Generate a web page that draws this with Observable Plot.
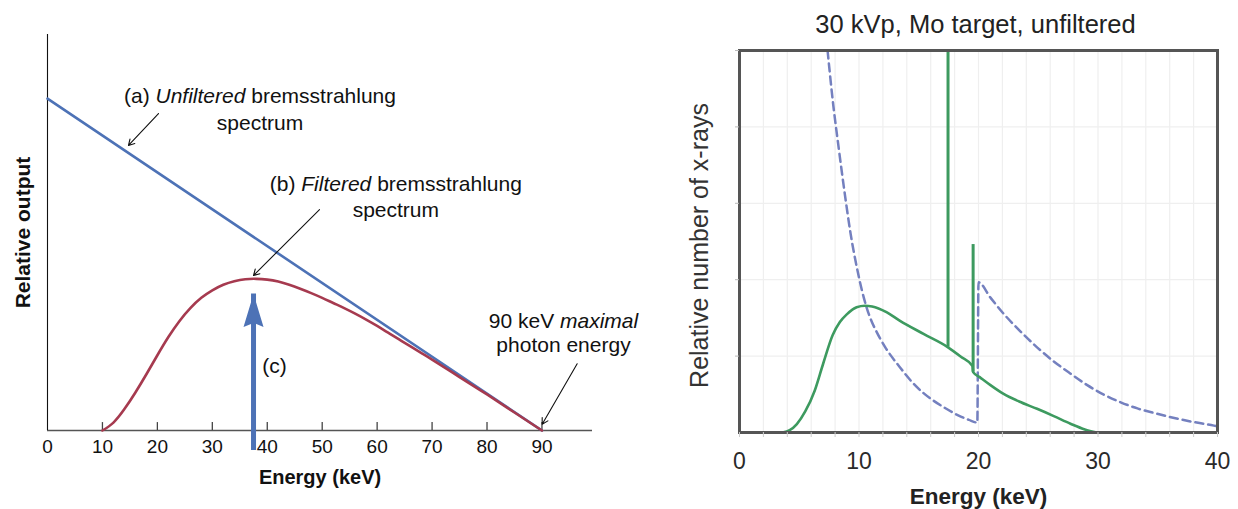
<!DOCTYPE html>
<html><head><meta charset="utf-8">
<script src="https://cdn.jsdelivr.net/npm/d3@7"></script>
<script src="https://cdn.jsdelivr.net/npm/@observablehq/plot@0.6"></script>
<style>
html,body{margin:0;padding:0;background:#fff;}
#wrap{position:relative;width:1238px;height:509px;overflow:hidden;background:#fff;}
#wrap svg{position:absolute;top:0;background:transparent !important;max-width:none !important;overflow:visible;}
</style></head><body><div id="wrap"></div>
<script>
// ---------- Left panel data ----------
const leftTicks = [0, 10, 20, 30, 40, 50, 60, 70, 80, 90];
const unfilteredKeV = [0, 90];
const unfilteredOutput = [83.8, 0];
const filteredKeV =    [10, 12, 14, 16, 18, 20, 22, 24, 26, 28, 30, 32, 34, 36, 38, 40, 42, 44, 46, 48, 50, 52, 54, 56, 58, 60, 62, 64, 66, 68, 70, 75, 80, 85, 90];
const filteredOutput = [0, 2.0, 5.4, 9.6, 14.2, 19.0, 23.6, 27.6, 30.9, 33.5, 35.4, 36.8, 37.7, 38.2, 38.3, 38.1, 37.6, 36.8, 35.8, 34.7, 33.5, 32.2, 30.9, 29.5, 28.0, 26.4, 24.7, 23.0, 21.3, 19.6, 17.9, 13.5, 9.1, 4.55, 0];
const peakKeV = [37.5];
const peakOutput = [34.5];

// ---------- Right panel data ----------
const rightTicks = [0, 10, 20, 30, 40];
const minorTicks = [0, 2, 4, 6, 8, 10, 12, 14, 16, 18, 20, 22, 24, 26, 28, 30, 32, 34, 36, 38, 40];
const gridY = [20, 40, 60, 80, 100];
const spectrumKeV =   [3.6, 4.2, 4.8, 5.5, 6.3, 7.0, 7.8, 8.4, 9.0, 9.8, 10.5, 11.1, 12.3, 13.4, 15.4, 17.45, 18.5, 19.5, 19.55, 20.1, 21.0, 22.1, 23.4, 24.9, 26.3, 27.7, 28.9, 29.9];
const spectrumCount = [0, 0.6, 2.2, 5.5, 11, 18, 25.5, 28.9, 31, 32.8, 33.2, 33.0, 31.5, 29.3, 25.8, 22.3, 19.9, 17.4, 15.8, 14.5, 12.4, 10.1, 8.1, 6.2, 4.3, 2.3, 0.8, 0];
const charKeV = [17.45, 19.55];
const charLow = [22.3, 15.8];
const charHigh = [100, 49.2];
const edgeKeV =   [7.37, 7.8, 8.3, 8.81, 9.3, 9.9, 10.3, 10.63, 11.0, 11.4, 12.2, 13.42, 14.5, 15.4, 16.2, 17.2, 18.3, 19.2, 19.9, 20.0, 21.0, 22.1, 23.5, 24.9, 26.3, 27.7, 29.1, 30.5, 31.9, 33.3, 34.7, 36.1, 37.9, 39.7, 40];
const edgeCount = [100, 87, 74.5, 62.5, 52, 42, 36.5, 32.8, 29.5, 26.8, 22.3, 17.1, 13.0, 10.3, 8.4, 6.4, 4.5, 3.3, 2.6, 39.3, 35.3, 31.1, 26.5, 22.3, 18.6, 15.4, 12.4, 9.9, 7.9, 6.3, 5.1, 4.0, 2.8, 1.8, 1.6];

// ---------- styles ----------
const FONT = "'Liberation Sans', Arial, Helvetica, sans-serif";
const BLUE = "#4d72b6";
const RED = "#a63a4f";
const GREEN = "#3d9a5f";
const DASH = "#7480bf";

const headSymbol = {
  draw(ctx) {
    ctx.moveTo(0, 0);
    ctx.lineTo(10, 33);
    ctx.lineTo(0, 29);
    ctx.lineTo(-10, 33);
    ctx.closePath();
  }
};

const left = Plot.plot({
  width: 680, height: 509,
  marginLeft: 47, marginRight: 88, marginTop: 34, marginBottom: 79,
  x: {domain: [0, 99.2]},
  y: {domain: [0, 100], axis: null},
  style: {fontFamily: FONT, background: "transparent", overflow: "visible"},
  marks: [
    Plot.axisX({ticks: leftTicks, tickSize: 0, tickPadding: 9, fontSize: 19, label: null, fill: "#111"}),
    Plot.ruleY([0], {stroke: "#555", strokeWidth: 1.6}),
    Plot.ruleX([0], {y1: 0, y2: 100, stroke: "#111", strokeWidth: 1.1}),
    Plot.ruleX(leftTicks.slice(1), {x: d => d, y1: 0, y2: 2, stroke: "#444", strokeWidth: 1.3}),
    Plot.line(unfilteredKeV, {x: unfilteredKeV, y: unfilteredOutput, stroke: BLUE, strokeWidth: 2.6}),
    Plot.line(filteredKeV, {x: filteredKeV, y: filteredOutput, stroke: RED, strokeWidth: 2.6, curve: "natural"}),
    Plot.ruleX(peakKeV, {x: peakKeV, y1: 0, y2: peakOutput, stroke: BLUE, strokeWidth: 5, insetTop: 20}),
    Plot.dot(peakKeV, {x: peakKeV, y: peakOutput, symbol: headSymbol, fill: BLUE, stroke: "none", r: 10}),
    Plot.text(["(a) Unfiltered bremsstrahlung"], {x: 38.68, y: 82.58, text: d => d, fontSize: 21, lineAnchor: "bottom", fill: "#111"}),
    Plot.text(["spectrum"], {x: 38.68, y: 75.9, text: d => d, fontSize: 21, lineAnchor: "bottom", fill: "#111"}),
    Plot.text(["(b) Filtered bremsstrahlung"], {x: 63.4, y: 60.4, text: d => d, fontSize: 21, lineAnchor: "bottom", fill: "#111"}),
    Plot.text(["spectrum"], {x: 63.4, y: 54.0, text: d => d, fontSize: 21, lineAnchor: "bottom", fill: "#111"}),
    Plot.text(["90 keV maximal"], {x: 93.92, y: 25.93, text: d => d, fontSize: 21, lineAnchor: "bottom", fill: "#111"}),
    Plot.text(["photon energy"], {x: 93.92, y: 19.77, text: d => d, fontSize: 21, lineAnchor: "bottom", fill: "#111"}),
    Plot.text(["(c)"], {x: 41.3, y: 14.4, text: d => d, fontSize: 21, lineAnchor: "bottom", fill: "#111"}),
    Plot.arrow([0], {x1: 20.2, y1: 80.05, x2: 14.74, y2: 71.97, stroke: "#111", strokeWidth: 1.1, headLength: 9}),
    Plot.arrow([0], {x1: 49.51, y1: 55.8, x2: 37.5, y2: 39.14, stroke: "#111", strokeWidth: 1.1, headLength: 9}),
    Plot.arrow([0], {x1: 96.41, y1: 16.84, x2: 90.04, y2: 1.6, stroke: "#111", strokeWidth: 1.1, headLength: 9}),
    Plot.text(["Relative output"], {frameAnchor: "left", dx: -24, rotate: -90, textAnchor: "middle", text: d => d, fontSize: 21, fontWeight: "bold", fill: "#111"}),
    Plot.text(["Energy (keV)"], {frameAnchor: "bottom", dy: 53, lineAnchor: "bottom", text: d => d, fontSize: 20, fontWeight: "bold", fill: "#111"})
  ]
});

const right = Plot.plot({
  width: 558, height: 509,
  marginLeft: 59, marginRight: 21, marginTop: 50, marginBottom: 77,
  x: {domain: [0, 40]},
  y: {domain: [0, 100]},
  style: {fontFamily: FONT, background: "transparent", overflow: "visible"},
  marks: [
    Plot.ruleX(minorTicks, {x: d => d, stroke: "#efefef", strokeWidth: 1.2}),
    Plot.ruleY(gridY, {y: d => d, stroke: "#efefef", strokeWidth: 1.2}),
    Plot.line(edgeKeV, {x: edgeKeV, y: edgeCount, stroke: DASH, strokeWidth: 2.5, strokeDasharray: "8,5", curve: "monotone-x"}),
    Plot.line(spectrumKeV, {x: spectrumKeV, y: spectrumCount, stroke: GREEN, strokeWidth: 2.6, curve: "monotone-x"}),
    Plot.ruleX(charKeV, {x: charKeV, y1: charLow, y2: charHigh, stroke: GREEN, strokeWidth: 3}),
    Plot.frame({stroke: "#555", strokeWidth: 3}),
    Plot.axisY({ticks: gridY, tickSize: 4, tickFormat: () => "", stroke: "#bbb", label: null}),
    Plot.axisX({ticks: minorTicks, tickSize: 5, tickFormat: () => "", stroke: "#ccc", label: null}),
    Plot.axisX({ticks: rightTicks, tickSize: 0, tickPadding: 20, fontSize: 23, fill: "#2a2a2a", label: null}),
    Plot.text(["30 kVp, Mo target, unfiltered"], {frameAnchor: "top", dx: -3, dy: -18, lineAnchor: "bottom", text: d => d, fontSize: 25.5, fill: "#222"}),
    Plot.text(["Relative number of x-rays"], {frameAnchor: "left", dx: -39.5, dy: 4, rotate: -90, textAnchor: "middle", text: d => d, fontSize: 25, fill: "#333"}),
    Plot.text(["Energy (keV)"], {frameAnchor: "bottom", dy: 71, lineAnchor: "bottom", text: d => d, fontSize: 22.5, fontWeight: "bold", fill: "#222"})
  ]
});

function italicize(svg) {
  d3.select(svg).selectAll("text").each(function() {
    const t = this.textContent;
    const m = t.match(/^(.*?)(Unfiltered|Filtered|maximal)(.*)$/);
    if (!m) return;
    const el = d3.select(this);
    el.text("").style("white-space", "pre");
    el.append("tspan").text(m[1]);
    el.append("tspan").attr("font-style", "italic").text(m[2]);
    el.append("tspan").text(m[3]);
  });
}
italicize(left);

const wrap = document.getElementById("wrap");
right.style.left = "680px";
left.style.left = "0px";
wrap.appendChild(right);
wrap.appendChild(left);
</script></body></html>
